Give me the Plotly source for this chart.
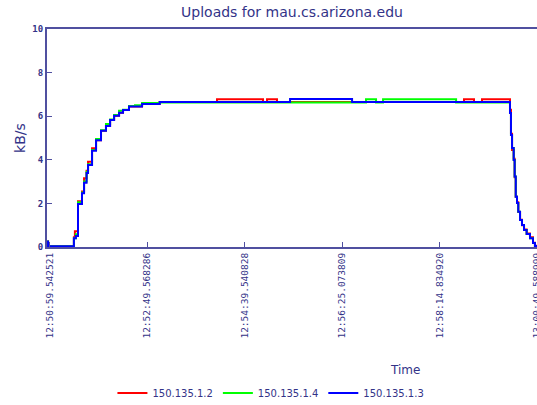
import plotly.graph_objects as go

# Sample index at which each step starts, and kB/s value
tick_pos = [0, 100, 200, 300, 400, 500]
tick_labels = ["12:50:59.542521", "12:52:49.568286", "12:54:39.540828",
               "12:56:25.073809", "12:58:14.834920", "13:00:49.588999"]

red_x = [-2.5, -1.5, 25, 26, 29.2, 33.3, 35.4, 38, 39.5, 43.6, 47.7, 52.8, 57.9, 62.1,
         66.2, 71.3, 75.4, 81.5, 94.9, 113, 171.8, 219, 223.1, 233.3, 425.1, 435.4,
         443.6, 472.3, 473.3, 474.4, 476.1, 477.1, 478.2, 479.5, 480.8, 482.6, 484.6,
         486.7, 489.4, 492.8, 495.9, 497.9, 500]
red_y = [0.25, 0.04, 0.45, 0.72, 2.1, 2.55, 3.15, 3.5, 3.91, 4.53, 4.9, 5.33, 5.55, 5.83,
         6.02, 6.16, 6.28, 6.44, 6.56, 6.65, 6.78, 6.65, 6.78, 6.65, 6.78, 6.65,
         6.78, 6.3, 5.2, 4.45, 4.05, 3.2, 2.3, 2.05, 1.6, 1.25, 1.0,
         0.8, 0.62, 0.45, 0.2, 0.06, 0.0]

green_x = [-2.5, -1.5, 25, 27, 29.2, 33.3, 35.4, 38, 39.5, 43.6, 47.7, 52.8, 57.9, 62.1,
           66.2, 71.3, 75.4, 81.5, 87.7, 94.9, 113, 324.6, 334.9, 342.1, 417,
           472.3, 473.3, 474.4, 476.1, 477.1, 478.2, 479.5, 480.8, 482.6, 484.6,
           486.7, 489.4, 492.8, 495.9, 497.9, 500]
green_y = [0.25, 0.04, 0.4, 0.58, 2.05, 2.5, 3.0, 3.45, 3.8, 4.45, 4.95, 5.35, 5.64, 5.85,
           6.05, 6.25, 6.3, 6.47, 6.5, 6.6, 6.63, 6.78, 6.63, 6.78, 6.63,
           6.15, 5.14, 4.54, 3.99, 3.23, 2.31, 2.02, 1.62, 1.24, 1.01,
           0.78, 0.6, 0.4, 0.18, 0.05, 0.0]

blue_x = [-2.5, -1.5, 25, 27, 29.2, 33.3, 35.4, 38, 39.5, 43.6, 47.7, 52.8, 57.9, 62.1,
          66.2, 71.3, 75.4, 81.5, 94.9, 113, 246.7, 310.3,
          472.3, 473.3, 474.4, 476.1, 477.1, 478.2, 479.5, 480.8, 482.6, 484.6,
          486.7, 489.4, 492.8, 495.9, 497.9, 500]
blue_y = [0.25, 0.04, 0.4, 0.5, 1.97, 2.47, 2.95, 3.4, 3.76, 4.42, 4.9, 5.33, 5.55, 5.83,
          6.02, 6.16, 6.28, 6.44, 6.56, 6.65, 6.79, 6.65,
          6.15, 5.14, 4.54, 3.99, 3.23, 2.31, 2.02, 1.62, 1.24, 1.01,
          0.78, 0.6, 0.4, 0.18, 0.05, 0.0]

series = [
    ("150.135.1.2", red_x, red_y, "#ff0000"),
    ("150.135.1.4", green_x, green_y, "#00ff00"),
    ("150.135.1.3", blue_x, blue_y, "#0000ff"),
]

NAVY = "#333388"
AXIS = "#5050a0"

fig = go.Figure()
for name, xs, ys, col in series:
    fig.add_trace(go.Scatter(x=xs, y=ys, mode="lines", name=name,
                             line=dict(color=col, width=2, shape="hv")))

fig.update_layout(
    width=537, height=405,
    margin=dict(l=47, r=0, t=29, b=158, autoexpand=False),
    paper_bgcolor="white", plot_bgcolor="white",
    title=dict(text="Uploads for mau.cs.arizona.edu", x=0.5, xref="paper", xanchor="center",
               y=1 - 12 / 405, yref="container", yanchor="middle",
               font=dict(family="DejaVu Sans", size=14, color=NAVY)),
    showlegend=True,
    legend=dict(orientation="h", x=0.457, xanchor="center", y=-0.67, yanchor="middle",
                font=dict(family="DejaVu Sans", size=10, color=NAVY),
                itemwidth=30, bgcolor="rgba(0,0,0,0)"),
    xaxis=dict(range=[-2.6, 500], tickmode="array", tickvals=tick_pos, ticktext=tick_labels,
               tickangle=-90, ticks="inside", ticklen=5, tickcolor=AXIS, tickwidth=1,
               ticklabeloverflow="allow",
               showline=True, linecolor=AXIS, linewidth=2, mirror=True,
               showgrid=False, zeroline=False,
               tickfont=dict(family="DejaVu Sans Mono", size=9.5, color=NAVY)),
    yaxis=dict(range=[0, 10], tickmode="array", tickvals=[0, 2, 4, 6, 8, 10],
               ticks="inside", ticklen=5, tickcolor=AXIS, tickwidth=1,
               showline=True, linecolor=AXIS, linewidth=2,
               showgrid=False, zeroline=False,
               tickfont=dict(family="DejaVu Sans Mono", size=9, color=NAVY, weight="bold"),
               title=dict(text="kB/s", standoff=3,
                          font=dict(family="DejaVu Sans", size=14, color=NAVY))),
    annotations=[dict(text="Time", xref="paper", yref="paper", x=0.73, y=-0.564,
                      xanchor="center", yanchor="middle", showarrow=False,
                      font=dict(family="DejaVu Sans", size=12, color=NAVY))],
)

fig.write_html("out.html", config={"displayModeBar": False},
               post_script="document.body.style.margin='0px';document.body.style.overflow='hidden';")
